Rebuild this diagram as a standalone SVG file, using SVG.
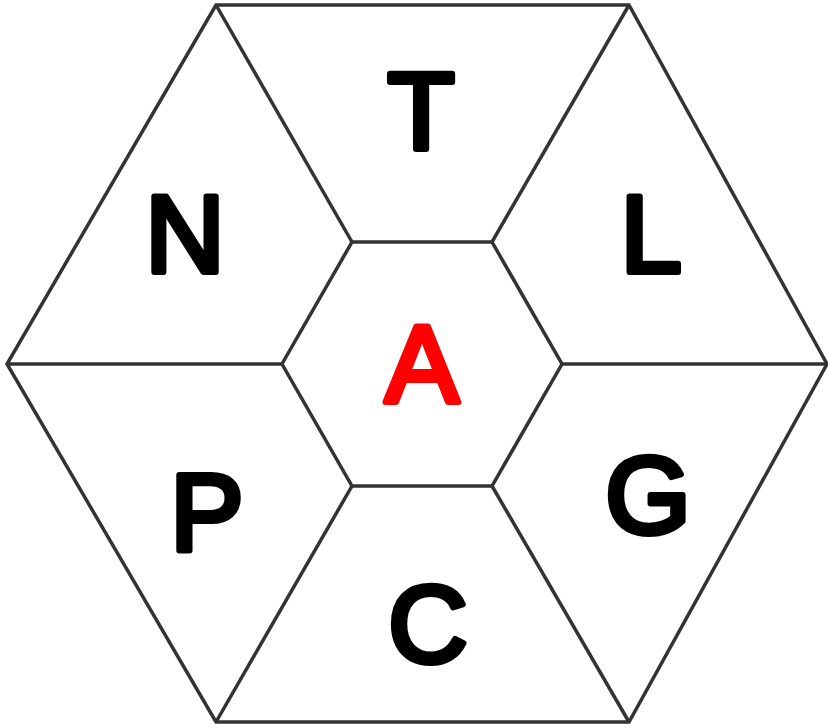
<svg xmlns="http://www.w3.org/2000/svg" width="828" height="728" viewBox="0 0 828 728">
<style>
.ln{fill:none;stroke:#333;stroke-width:3.5;stroke-linejoin:miter}
.lt{font-family:"Liberation Sans",Arial,sans-serif;font-size:110px;text-anchor:middle;fill:#000;stroke:#000;stroke-width:6;stroke-linejoin:round;stroke-linecap:round}
.red{fill:#ff0000;stroke:#ff0000}
</style>
<rect width="828" height="728" fill="#fff"/>
<g id="connectors">
<polygon class="ln" points="216,5 629,5 827,364 629,722 216,722 7,364"/>
<polygon class="ln" points="352,242 492,242 562,364 492,486 352,486 282,364"/>
<line class="ln" x1="216" y1="5" x2="352" y2="242"/>
<line class="ln" x1="629" y1="5" x2="492" y2="242"/>
<line class="ln" x1="827" y1="364" x2="562" y2="364"/>
<line class="ln" x1="629" y1="722" x2="492" y2="486"/>
<line class="ln" x1="216" y1="722" x2="352" y2="486"/>
<line class="ln" x1="7" y1="364" x2="282" y2="364"/>
</g>
<g id="T"><text class="lt" x="421" y="149">T</text></g>
<g id="N"><text class="lt" x="185" y="272">N</text></g>
<g id="L"><text class="lt" x="651" y="272">L</text></g>
<g id="A"><text class="lt red" x="422" y="402">A</text></g>
<g id="P"><text class="lt" x="207" y="550">P</text></g>
<g id="G"><text class="lt" x="648" y="533">G</text></g>
<g id="C"><text class="lt" x="428" y="662">C</text></g>
</svg>
